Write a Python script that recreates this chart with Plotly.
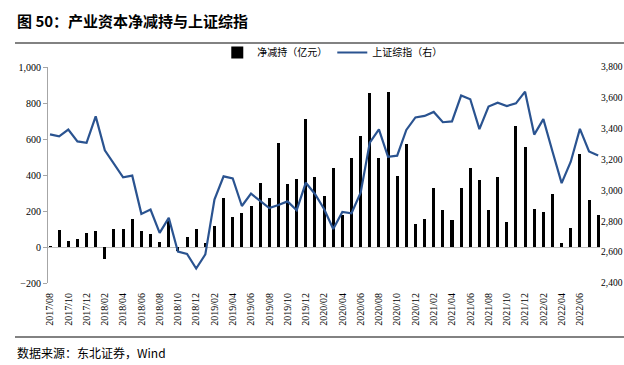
import plotly.graph_objects as go

# Monthly categories 2017/08 .. 2022/08
months = []
y, m = 2017, 8
while (y, m) <= (2022, 8):
    months.append(f"{y}/{m:02d}")
    m += 1
    if m > 12:
        m = 1
        y += 1

net_reduction = [5, 96, 33, 46, 80, 91, -68, 98, 100, 156, 89, 70,
                 30, 144, -20, 57, 102, 24, 115, 272, 169, 187, 228, 357,
                 270, 580, 352, 376, 713, 387, 283, 437, 178, 493, 617, 854,
                 493, 859, 394, 570, 127, 157, 328, 204, 150, 326, 441, 370,
                 207, 391, 139, 674, 557, 213, 193, 293, 20, 106, 515, 263, 176]

sse_index = [3363, 3350, 3394, 3318, 3309, 3480, 3260, 3170, 3085, 3096, 2848, 2876,
             2725, 2822, 2603, 2588, 2494, 2585, 2941, 3091, 3078, 2899, 2979, 2932,
             2886, 2905, 2929, 2872, 3050, 2977, 2880, 2750, 2860, 2852, 2985, 3310,
             3396, 3218, 3225, 3392, 3473, 3483, 3509, 3442, 3447, 3615, 3591, 3397,
             3544, 3568, 3547, 3564, 3640, 3362, 3462, 3252, 3047, 3186, 3399, 3253, 3227]

tick_labels = months[:-1:2]   # 2017/08 ... 2022/06

title_text = "图 50：产业资本净减持与上证综指"
source_text = "数据来源：东北证券，Wind"
bar_name = "净减持（亿元）"
line_name = "上证综指（右）"

serif = "Liberation Serif, Times New Roman, serif"
cjk = "Noto Sans CJK SC, sans-serif"

fig = go.Figure()
fig.add_trace(go.Bar(x=months, y=net_reduction, name=bar_name,
                     marker=dict(color="#000000", line=dict(width=0)), width=0.33))
fig.add_trace(go.Scatter(x=months, y=sse_index, name=line_name, yaxis="y2",
                         mode="lines", line=dict(color="#2a5390", width=2.2)))

L, R, T, B = 48, 24, 67, 82
W, H = 624, 365
pw, ph = W - L - R, H - T - B

def px_to_paper_x(px):
    return (px - L) / pw

def px_to_paper_y(py):
    return (H - B - py) / ph

fig.update_layout(
    width=W, height=H,
    margin=dict(l=L, r=R, t=T, b=B, autoexpand=False),
    paper_bgcolor="white", plot_bgcolor="white",
    showlegend=True,
    legend=dict(orientation="h", x=0.515, xanchor="center", y=1.0, yanchor="bottom",
                font=dict(family=cjk, size=10, color="#000"),
                bgcolor="rgba(0,0,0,0)", itemwidth=30, tracegroupgap=0),
    bargap=0,
    xaxis=dict(type="category", categoryorder="array", categoryarray=months,
               tickmode="array", tickvals=tick_labels, ticktext=tick_labels,
               tickangle=-90, range=[-0.22, 60.2],
               ticks="outside", ticklen=5, tickcolor="rgba(0,0,0,0)",
               showline=False, showgrid=False, zeroline=False,
               tickfont=dict(family=serif, size=10, color="#000")),
    yaxis=dict(range=[-200, 1000], dtick=200, tickformat=",",
               showline=True, linecolor="#a6a6a6", linewidth=1,
               ticks="outside", ticklen=4, tickcolor="#a6a6a6",
               showgrid=False, zeroline=True, zerolinecolor="#bfbfbf", zerolinewidth=1,
               tickfont=dict(family=serif, size=10, color="#000")),
    yaxis2=dict(range=[2400, 3800], dtick=200, tickformat=",", overlaying="y", side="right",
                showline=False, showgrid=False, zeroline=False,
                ticks="", ticklabelstandoff=0,
                tickfont=dict(family=serif, size=9.5, color="#000")),
    shapes=[
        dict(type="line", xref="paper", yref="paper",
             x0=px_to_paper_x(15), x1=px_to_paper_x(624),
             y0=px_to_paper_y(43), y1=px_to_paper_y(43),
             line=dict(color="#595959", width=1.5)),
        dict(type="line", xref="paper", yref="paper",
             x0=px_to_paper_x(15), x1=px_to_paper_x(624),
             y0=px_to_paper_y(337), y1=px_to_paper_y(337),
             line=dict(color="#595959", width=1.5)),
    ],
    annotations=[
        dict(text="<b>" + title_text + "</b>", xref="paper", yref="paper",
             x=px_to_paper_x(15), y=px_to_paper_y(21), xanchor="left", yanchor="middle",
             showarrow=False, font=dict(family=cjk, size=15, color="#000")),
        dict(text=source_text, xref="paper", yref="paper",
             x=px_to_paper_x(15), y=px_to_paper_y(352), xanchor="left", yanchor="middle",
             showarrow=False, font=dict(family=cjk, size=12, color="#000")),
    ],
)

fig.write_html("out.html",
               config={"displayModeBar": False},
               post_script="document.body.style.margin='0px';document.body.style.overflow='hidden';")
